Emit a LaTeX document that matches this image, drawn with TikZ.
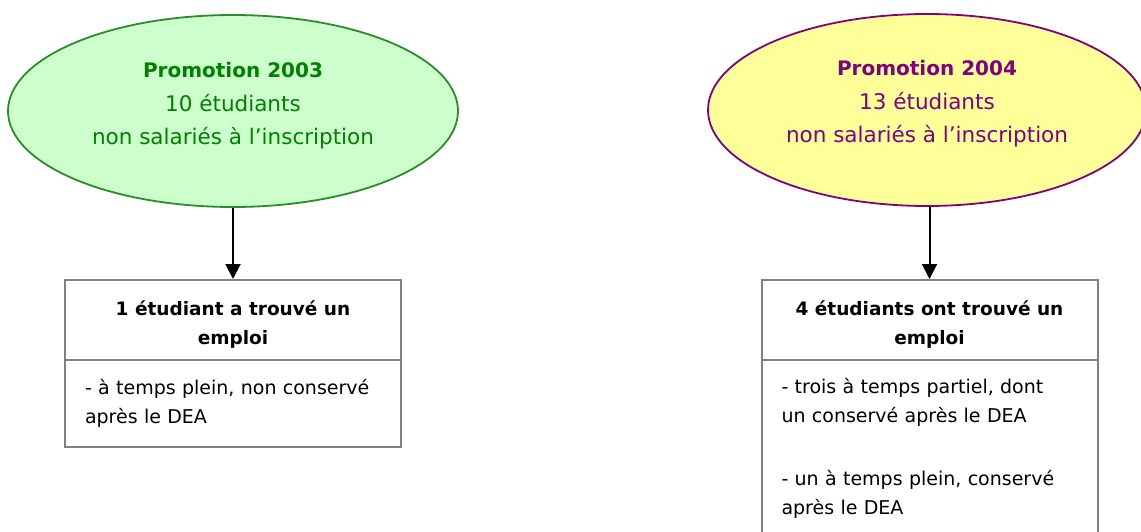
\documentclass[tikz,border=0pt]{standalone}
\usepackage{fontspec}
\setmainfont{DejaVu Sans}
\usetikzlibrary{arrows.meta,shapes.geometric}
\definecolor{gfill}{HTML}{CCFFCC}
\definecolor{gtext}{HTML}{008000}
\definecolor{gline}{HTML}{2A8C2A}
\definecolor{yfill}{HTML}{FFFF99}
\definecolor{purp}{HTML}{800080}
\definecolor{boxgray}{HTML}{808080}
\begin{document}
\begin{tikzpicture}[x=1pt,y=-1pt,
  oval/.style={ellipse, draw, line width=1.8pt, minimum height=192pt, inner sep=0pt},
  elbl/.style={align=center, font=\fontsize{21.5}{33.5}\selectfont, inner sep=0pt},
  headbox/.style={draw=boxgray, line width=2pt, minimum width=336pt, minimum height=80pt, align=center, inner sep=0pt, font=\fontsize{18.5}{29}\selectfont\bfseries},
  bodybox/.style={draw=boxgray, line width=2pt, minimum width=336pt, text width=296pt, inner xsep=20pt, inner ysep=18.5pt, align=left, font=\fontsize{19}{29}\selectfont},
  arr/.style={line width=2pt, -{Triangle[length=15pt,width=15pt]}}]
\useasboundingbox (0,0) rectangle (1141,532);
\clip (0,0) rectangle (1141,532);
% left
\node[oval, draw=gline, fill=gfill, minimum width=450pt] (e1) at (233,111) {};
\node[elbl, text=gtext] (l1) at ([yshift=5pt]e1.center) {{\bfseries\fontsize{20}{33.5}\selectfont Promotion 2003}\\10 étudiants\\non salariés à l’inscription};
\node[headbox] (h1) at (233,320) {\rule{0pt}{24pt}1 étudiant a trouvé un\\emploi};
\node[bodybox, minimum height=87pt, anchor=north] (b1) at ([yshift=2pt]h1.south) {- à temps plein, non conservé\\après le DEA};
\draw[arr] (e1.south) -- (h1.north);
% right
\node[oval, draw=purp, fill=yfill, minimum width=438pt] (e2) at (927,110) {};
\node[elbl, text=purp] (l2) at ([yshift=6pt]e2.center) {{\bfseries\fontsize{20}{33.5}\selectfont Promotion 2004}\\13 étudiants\\non salariés à l’inscription};
\node[headbox] (h2) at (929.5,320) {\rule{0pt}{24pt}4 étudiants ont trouvé un\\emploi};
\node[bodybox, anchor=north] (b2) at ([yshift=2pt]h2.south) {- trois à temps partiel, dont\\un conservé après le DEA\\[34pt]- un à temps plein, conservé\\après le DEA};
\draw[arr] (e2.south -| h2.north) -- (h2.north);
\end{tikzpicture}
\end{document}
